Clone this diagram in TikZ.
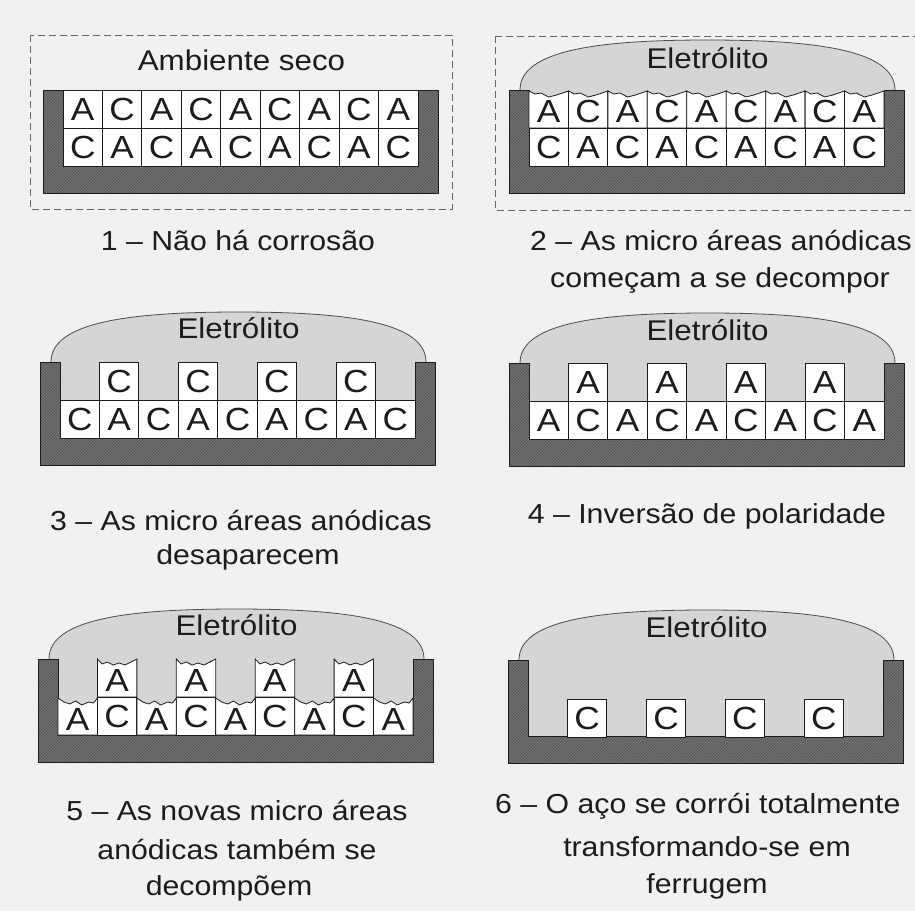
\documentclass[tikz,border=0pt]{standalone}
\usepackage{fontspec}
\setmainfont{Liberation Sans}[FakeStretch=1.1]
\usetikzlibrary{patterns}
\definecolor{bg}{HTML}{F1F1F1}
\definecolor{wall}{HTML}{5C5C5C}
\definecolor{elec}{HTML}{D5D5D5}
\definecolor{ink}{HTML}{1C1C1C}
\newcommand{\cw}{39.444}
\tikzset{
  cellbox/.style={draw=ink, fill=white, line width=0.8pt, minimum width=39.444pt,
    minimum height=38pt, inner sep=0pt, font=\fontsize{32}{32}\selectfont, text=ink},
  cellline/.style={draw=ink, fill=white, line width=0.8pt},
  celltext/.style={inner sep=0pt, font=\fontsize{32}{32}\selectfont, text=ink},
  lbl/.style={font=\fontsize{28.5}{28.5}\selectfont, text=ink, inner sep=0pt, anchor=base},
  capline/.style={font=\fontsize{27.5}{27.5}\selectfont, text=ink, inner sep=0pt, anchor=base},
  wallshape/.style={draw=ink, line width=1pt, preaction={fill=wall},
    pattern=north east lines, pattern color=black!50},
  domeline/.style={draw=black!70, line width=0.8pt},
  dashbox/.style={draw=black!60, dash pattern=on 7pt off 4pt, line width=0.9pt},
}
\newcommand{\vessel}{%
  \path[wallshape] (0,0) -- (20,0) -- (20,76) -- (375,76) -- (375,0) -- (395,0)
    -- (395,103) -- (0,103) -- cycle;}
\newcommand{\electro}{%
  \fill[elec] (11,0) .. controls (11,-40) and (90,-50) .. (198.5,-50)
    .. controls (307,-50) and (386,-40) .. (386,0) -- (386,76) -- (11,76) -- cycle;
  \draw[domeline] (11,0) .. controls (11,-40) and (90,-50) .. (198.5,-50)
    .. controls (307,-50) and (386,-40) .. (386,0);}
\begin{document}
\begin{tikzpicture}[x=1pt,y=-1pt]
\useasboundingbox (0,0) rectangle (915,911);
\fill[bg] (0,0) rectangle (915,911);
\clip (0,0) rectangle (915,911);

% ---------- Panel 1 ----------
\draw[dashbox] (30,35) rectangle (452,209);
\begin{scope}[shift={(43,90)}]
  \vessel
  \node[lbl] (l1) at (198.5,-20) {Ambiente seco};
  \foreach \t [count=\k from 0] in {A,C,A,C,A,C,A,C,A}
    \node[cellbox] (p1t\k) at ({20+\cw*(\k+0.5)},19) {\t};
  \foreach \t [count=\k from 0] in {C,A,C,A,C,A,C,A,C}
    \node[cellbox] (p1b\k) at ({20+\cw*(\k+0.5)},57) {\t};
\end{scope}
\node[capline] (c1) at (238,250) {1 – Não há corrosão};

% ---------- Panel 2 ----------
\draw[dashbox] (495,36) rectangle (935,210);
\begin{scope}[shift={(509,90)}]
  \electro
  \vessel
  \node[lbl] (l2) at (198.5,-22) {Eletrólito};
  \foreach \t [count=\k from 0] in {A,C,A,C,A,C,A,C,A} {
    \pgfmathsetmacro\xa{20+\cw*\k}
    \pgfmathsetmacro\xb{\xa+\cw}
    \filldraw[cellline] (\xa,1) -- ({\xa+0.15*\cw},4) -- ({\xa+0.3*\cw},3)
      -- ({\xa+0.5*\cw},7) -- ({\xa+0.7*\cw},5) -- ({\xa+0.85*\cw},3) -- (\xb,1)
      -- (\xb,38) -- (\xa,38) -- cycle;
    \node[celltext] (p2t\k) at ({\xa+0.5*\cw},21) {\t};
  }
  \foreach \t [count=\k from 0] in {C,A,C,A,C,A,C,A,C}
    \node[cellbox] (p2b\k) at ({20+\cw*(\k+0.5)},57) {\t};
\end{scope}
\node[capline] (c2a) at (721,250) {2 – As micro áreas anódicas};
\node[capline] (c2b) at (720,287) {começam a se decompor};

% ---------- Panel 3 ----------
\begin{scope}[shift={(40,362)}]
  \electro
  \vessel
  \node[lbl] (l3) at (198.5,-24) {Eletrólito};
  \foreach \k in {1,3,5,7}
    \node[cellbox] (p3t\k) at ({20+\cw*(\k+0.5)},19) {C};
  \foreach \t [count=\k from 0] in {C,A,C,A,C,A,C,A,C}
    \node[cellbox] (p3b\k) at ({20+\cw*(\k+0.5)},57) {\t};
\end{scope}
\node[capline] (c3a) at (241,530) {3 – As micro áreas anódicas};
\node[capline] (c3b) at (248,564) {desaparecem};

% ---------- Panel 4 ----------
\begin{scope}[shift={(509,363)}]
  \electro
  \vessel
  \node[lbl] (l4) at (198.5,-23) {Eletrólito};
  \foreach \k in {1,3,5,7}
    \node[cellbox] (p4t\k) at ({20+\cw*(\k+0.5)},19) {A};
  \foreach \t [count=\k from 0] in {A,C,A,C,A,C,A,C,A}
    \node[cellbox] (p4b\k) at ({20+\cw*(\k+0.5)},57) {\t};
\end{scope}
\node[capline] (c4) at (707,523) {4 – Inversão de polaridade};

% ---------- Panel 5 ----------
\begin{scope}[shift={(38,659)}]
  \electro
  \vessel
  \node[lbl] (l5) at (198.5,-24) {Eletrólito};
  \foreach \k in {1,3,5,7} {
    \pgfmathsetmacro\xa{20+\cw*\k}
    \pgfmathsetmacro\xb{\xa+\cw}
    \filldraw[cellline] (\xa,0) -- ({\xa+0.12*\cw},5) -- ({\xa+0.25*\cw},3)
      -- ({\xa+0.4*\cw},6) -- ({\xa+0.55*\cw},4) -- ({\xa+0.7*\cw},6)
      -- ({\xa+0.85*\cw},3) -- (\xb,0) -- (\xb,38) -- (\xa,38) -- cycle;
    \node[celltext] (p5t\k) at ({\xa+0.5*\cw},21) {A};
    \node[cellbox] (p5b\k) at ({\xa+0.5*\cw},57) {C};
  }
  \foreach \k in {0,2,4,6,8} {
    \pgfmathsetmacro\xa{20+\cw*\k}
    \pgfmathsetmacro\xb{\xa+\cw}
    \filldraw[cellline] (\xa,39) -- ({\xa+0.15*\cw},43) -- ({\xa+0.3*\cw},45)
      -- ({\xa+0.45*\cw},42) -- ({\xa+0.6*\cw},46) -- ({\xa+0.78*\cw},43)
      -- ({\xa+0.9*\cw},44) -- (\xb,39) -- (\xb,76) -- (\xa,76) -- cycle;
    \node[celltext] (p5b\k) at ({\xa+0.5*\cw},60) {A};
  }
\end{scope}
\node[capline] (c5a) at (237,820) {5 – As novas micro áreas};
\node[capline] (c5b) at (237,859) {anódicas também se};
\node[capline] (c5c) at (229,895) {decompõem};

% ---------- Panel 6 ----------
\begin{scope}[shift={(508,660)}]
  \electro
  \vessel
  \node[lbl] (l6) at (198.5,-23) {Eletrólito};
  \foreach \k in {1,3,5,7}
    \node[cellbox] (p6b\k) at ({20+\cw*(\k+0.5)},58) {C};
\end{scope}
\node[capline, anchor=base west] (c6a) at (495,813) {6 – O aço se corrói totalmente};
\node[capline] (c6b) at (707,856) {transformando-se em};
\node[capline] (c6c) at (707,893) {ferrugem};
\end{tikzpicture}
\end{document}
